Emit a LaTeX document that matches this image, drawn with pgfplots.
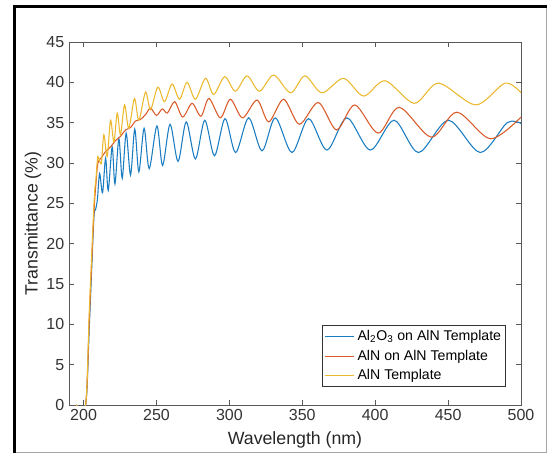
\documentclass[border=0pt]{standalone}
\usepackage{fontspec}
\setmainfont{Liberation Sans}
\usepackage{pgfplots}
\pgfplotsset{compat=1.18}
\definecolor{mblue}{HTML}{1A7DC2}
\definecolor{morange}{HTML}{D95B2A}
\definecolor{myellow}{HTML}{EBB82E}

\pgfplotstableread{
x y
195 0
201.4 0
204 10
207 23
208.2 24.2
209.5 25.5
211 28.7
213 26.3
215.1 30.6
216.9 26.6
219.6 32.0
221.5 27.4
224.2 33.0
226.5 28.1
229.2 33.7
232.2 28.5
235.1 34.2
237.9 28.9
241.5 34.3
245.0 29.3
250.3 34.6
254.2 29.7
259.3 34.8
264.8 30.2
270.4 35.1
276.7 30.5
283.1 35.3
289.8 30.9
297.0 35.5
304.3 31.3
313.2 35.6
322.4 31.5
331.5 35.6
342.9 31.3
354.3 35.5
366.9 31.6
380.6 35.6
396.6 31.6
413.0 35.3
429.7 31.3
450.2 35.3
472.0 31.3
490.5 35.0
500 34.9
}\alo

\pgfplotstableread{
x y
195 0
201.4 0
204 11
207 23.5
208.5 27.5
209.8 30.0
212 30.6
215 31.4
218.5 32.0
222 32.8
225.3 33.3
228.8 34.1
232.2 34.4
235.6 35.2
239 35.4
242.5 36.0
245.9 36.8
250 35.9
254 36.7
257.5 36.2
262.5 37.6
268 35.7
274.4 37.4
280.5 35.8
286 38.0
293.8 35.6
300.7 37.9
309 35.6
319 37.8
327 35.1
337.2 37.9
348 34.8
361 37.5
373.5 34.1
386 37.2
402 33.7
416.5 36.9
438.5 33.2
456 36.3
479 33.0
500 35.7
}\alnon

\pgfplotstableread{
x y
195 0
201.4 0
204 12
207.3 25.5
208.5 28
209.8 30.8
212.1 29.9
213.9 33.5
216.2 30.8
218.5 35.3
220.8 32.6
223.1 36.2
225.3 33.5
228.1 37.2
231 34.3
234.9 38.0
237.9 35.3
242.5 38.8
245.9 36.6
250.9 39.4
255.5 37.6
260.7 39.8
265.8 37.9
271 40.0
276.7 37.9
283.6 40.5
289.2 38.5
296.8 40.7
304.1 38.9
312.1 40.8
320.6 38.9
330.4 40.9
342 38.7
351.8 40.8
363.5 38.7
378.3 40.5
392 38.3
406.8 40.2
426.8 37.4
443.4 39.9
469 37.2
489 39.9
500 38.7
}\templ

\begin{document}
\begin{tikzpicture}
\useasboundingbox (0,0) rectangle (411pt,341.25pt);
% outer frame of the screenshot
\draw[black!35, line width=0.6pt] (11pt,1.9pt) rectangle (409.9pt,336.6pt);
\draw[black, line width=2pt] (11pt,1.5pt) -- (11pt,336.6pt) -- (410.5pt,336.6pt);

\begin{axis}[
  at={(51.75pt,37.5pt)}, anchor=south west,
  scale only axis, width=339pt, height=272.25pt,
  xmin=190, xmax=500, ymin=0, ymax=45,
  xtick={200,250,...,500}, ytick={0,5,...,45},
  tick align=inside, tick pos=both,
  major tick length=3.5pt,
  axis line style={black!65, line width=0.6pt},
  tick style={black!65, line width=0.5pt},
  /pgf/number format/assume math mode=true,
  tick label style={font=\fontsize{12}{14}\selectfont, text=black!80},
  label style={font=\fontsize{13.3}{15}\selectfont, text=black!85},
  xlabel={Wavelength (nm)}, ylabel={Transmittance (\%)},
  xlabel style={at={(axis description cs:0.5,0)}, anchor=center, yshift=-26pt},
  ylabel style={at={(axis description cs:0,0.5)}, anchor=center, yshift=27pt},
  legend style={at={(rel axis cs:0.967,0.05)}, anchor=south east,
    draw=black!80, line width=0.5pt, font=\fontsize{10.6}{12}\selectfont,
    inner sep=1.5pt, row sep=1.5pt},
  legend cell align=left,
  legend image code/.code={\draw[#1, line width=0.8pt] (0pt,0pt) -- (22pt,0pt);},
  every axis plot/.append style={line width=0.8pt, smooth, tension=0.5},
]
\addplot[mblue] table {\alo};
\addlegendentry{Al\textsubscript{2}O\textsubscript{3} on AlN Template}
\addplot[morange] table {\alnon};
\addlegendentry{AlN on AlN Template}
\addplot[myellow] table {\templ};
\addlegendentry{AlN Template}
\end{axis}
\end{tikzpicture}
\end{document}
